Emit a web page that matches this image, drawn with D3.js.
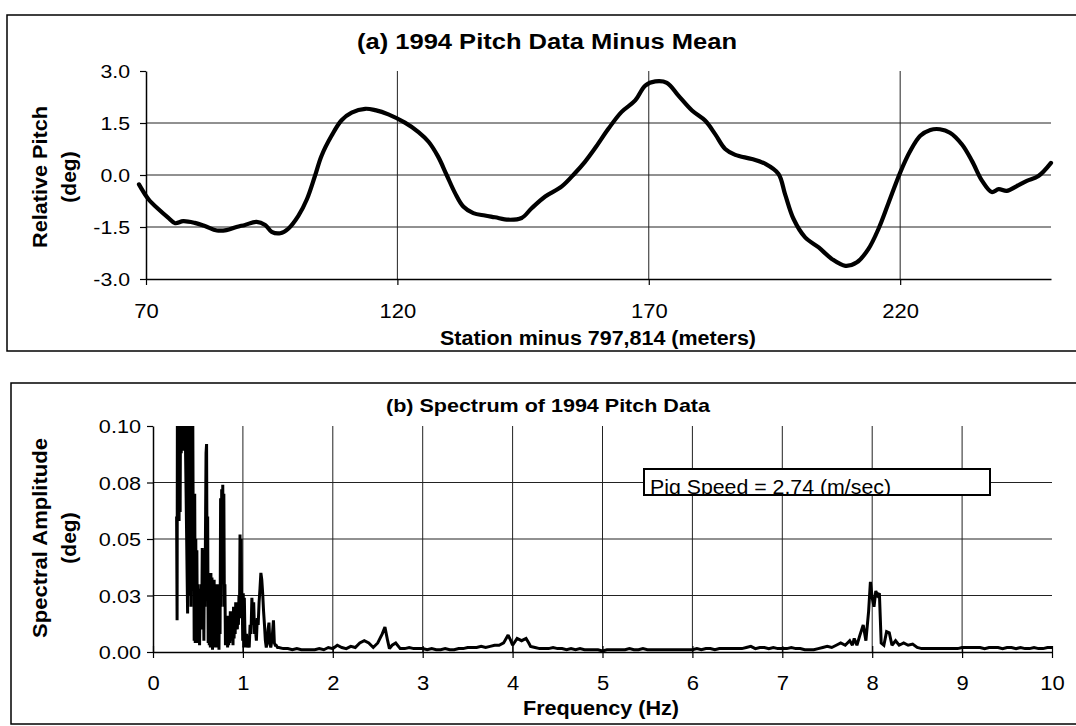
<!DOCTYPE html>
<html>
<head>
<meta charset="utf-8">
<script src="https://cdn.jsdelivr.net/npm/d3@7"></script>
<style>
  html, body { margin: 0; padding: 0; background: #fff; }
  svg { display: block; }
  text { font-family: "Liberation Sans", Arial, Helvetica, sans-serif; fill: #000; }
</style>
</head>
<body>
<svg id="chart" width="1076" height="726"></svg>
<script>
// ---------------- DATA ----------------
// (a) Pitch minus mean: station (m, minus 797,814) and relative pitch (deg)
const pitchStation = [68.6,70.5,72.5,74.4,75.8,77.4,79.7,81.7,84.1,86.0,88.0,89.7,92.0,93.7,95.0,96.7,98.3,100.3,102.0,103.6,104.9,106.9,108.9,110.9,113.6,115.6,118.2,121.5,124.2,126.2,128.1,129.8,131.5,133.1,135.1,137.4,139.4,142.1,144.7,146.7,149.4,152.7,155.3,157.3,159.3,162.0,164.6,167.3,169.3,171.3,173.6,175.9,178.6,181.2,183.2,185.2,187.2,190.5,193.2,195.8,197.1,198.8,201.1,203.8,206.4,209.1,211.4,213.7,215.7,217.7,220.0,222.0,224.0,226.0,227.9,229.9,232.3,234.3,236.3,238.2,239.6,241.2,243.2,245.2,247.5,250.0];
const pitchValue = [-0.27,-0.70,-0.99,-1.23,-1.39,-1.33,-1.38,-1.47,-1.60,-1.59,-1.50,-1.44,-1.35,-1.44,-1.64,-1.68,-1.55,-1.18,-0.70,-0.03,0.55,1.13,1.58,1.80,1.91,1.87,1.75,1.51,1.24,0.96,0.53,0.00,-0.53,-0.91,-1.10,-1.17,-1.22,-1.29,-1.24,-0.96,-0.62,-0.33,0.05,0.38,0.77,1.34,1.82,2.15,2.58,2.70,2.66,2.29,1.86,1.57,1.18,0.75,0.58,0.46,0.32,0.03,-0.55,-1.27,-1.80,-2.09,-2.42,-2.62,-2.52,-2.13,-1.55,-0.80,0.07,0.69,1.13,1.30,1.32,1.22,0.88,0.40,-0.17,-0.49,-0.41,-0.46,-0.32,-0.17,-0.03,0.35];
const pitchXTicks = [70, 120, 170, 220];
const pitchYTicks = [-3, -1.5, 0, 1.5, 3];
const pitchYTickLabels = ["-3.0", "-1.5", "0.0", "1.5", "3.0"];

// (b) Spectrum: [frequency (Hz), amplitude (deg)]
const spectrumLowBand = [[0.2625,0.06],[0.268,0.014],[0.272,0.13],[0.278,0.06],[0.284,0.13],[0.290,0.058],[0.296,0.13],[0.302,0.062],[0.308,0.13],[0.314,0.088],[0.320,0.13],[0.326,0.09],[0.332,0.13],[0.338,0.089],[0.344,0.12],[0.350,0.09],[0.356,0.11],[0.362,0.089],[0.385,0.017],[0.392,0.13],[0.398,0.025],[0.404,0.13],[0.410,0.03],[0.416,0.13],[0.422,0.02],[0.428,0.13],[0.434,0.05],[0.440,0.13],[0.446,0.067],[0.452,0.07],[0.458,0.005],[0.464,0.07],[0.470,0.004],[0.476,0.05],[0.482,0.006],[0.488,0.045],[0.494,0.004],[0.500,0.03],[0.506,0.005],[0.512,0.028],[0.518,0.003],[0.524,0.025],[0.530,0.01],[0.536,0.03],[0.542,0.012],[0.548,0.046],[0.554,0.01],[0.560,0.03],[0.566,0.005],[0.572,0.045],[0.578,0.02],[0.584,0.055],[0.590,0.088],[0.596,0.092],[0.602,0.03],[0.608,0.06],[0.614,0.004],[0.620,0.03],[0.626,0.003],[0.632,0.028],[0.638,0.002],[0.644,0.035],[0.650,0.006],[0.656,0.033],[0.662,0.001],[0.668,0.03],[0.674,0.006],[0.680,0.032],[0.686,0.002],[0.692,0.03],[0.698,0.004],[0.704,0.028],[0.710,0.002],[0.716,0.03],[0.722,0.004],[0.728,0.02],[0.734,0.001],[0.740,0.03],[0.746,0.008],[0.752,0.068],[0.758,0.02],[0.764,0.072],[0.770,0.03],[0.776,0.074],[0.782,0.04],[0.788,0.07],[0.794,0.02],[0.800,0.03],[0.806,0.003],[0.812,0.015],[0.818,0.003],[0.824,0.012],[0.83,0.002],[0.836,0.016],[0.842,0.003],[0.848,0.016],[0.854,0.004],[0.86,0.018],[0.866,0.006],[0.872,0.018],[0.878,0.005],[0.884,0.017],[0.89,0.003],[0.896,0.02],[0.902,0.006],[0.908,0.02],[0.914,0.008],[0.92,0.022],[0.926,0.012],[0.932,0.022],[0.938,0.01],[0.944,0.02],[0.95,0.012],[0.956,0.025],[0.962,0.015],[0.968,0.052],[0.974,0.02],[0.98,0.05],[0.986,0.02],[0.992,0.025],[0.998,0.005],[1.004,0.026],[1.01,0.002],[1.016,0.024],[1.022,0.01],[1.03,0.002],[1.04,0.008],[1.05,0.002],[1.06,0.006],[1.07,0.002],[1.08,0.012],[1.09,0.008],[1.10,0.024],[1.11,0.012],[1.12,0.022],[1.13,0.008],[1.14,0.01],[1.15,0.005],[1.16,0.015],[1.17,0.012],[1.18,0.022],[1.19,0.028],[1.20,0.035],[1.21,0.032],[1.22,0.026],[1.23,0.018],[1.24,0.012],[1.25,0.005],[1.26,0.002],[1.27,0.004],[1.28,0.01],[1.29,0.013],[1.30,0.004],[1.31,0.002],[1.325,0.006],[1.34,0.014],[1.35,0.004],[1.36,0.003],[1.37,0.003],[1.385,0.002]];
const spectrumMidBand = [[1.40,0.002],[1.45,0.0015],[1.50,0.0015],[1.55,0.001],[1.60,0.0015],[1.65,0.001],[1.70,0.001],[1.75,0.001],[1.80,0.001],[1.85,0.0015],[1.90,0.001],[1.95,0.002],[2.00,0.0015],[2.05,0.003],[2.10,0.002],[2.15,0.0015],[2.20,0.0025],[2.25,0.002],[2.30,0.004],[2.35,0.005],[2.40,0.004],[2.45,0.002],[2.50,0.004],[2.55,0.008],[2.58,0.011],[2.61,0.005],[2.63,0.0015],[2.66,0.003],[2.70,0.004],[2.75,0.0015],[2.80,0.0015],[2.85,0.002],[2.90,0.0015],[2.95,0.0015],[3.00,0.0015],[3.05,0.001],[3.10,0.0015],[3.15,0.001],[3.20,0.001],[3.25,0.0015],[3.30,0.001],[3.35,0.001],[3.40,0.0015],[3.45,0.0015],[3.50,0.002],[3.55,0.002],[3.60,0.002],[3.65,0.0025],[3.70,0.002],[3.75,0.0025],[3.80,0.003],[3.85,0.003],[3.90,0.004],[3.95,0.0075],[3.98,0.005],[4.00,0.003],[4.05,0.006],[4.10,0.005],[4.15,0.006],[4.18,0.004],[4.20,0.0025],[4.25,0.002],[4.30,0.0015],[4.35,0.0015],[4.40,0.0015],[4.45,0.002],[4.50,0.0015],[4.55,0.0015],[4.60,0.001],[4.65,0.0015],[4.70,0.001],[4.75,0.0015],[4.80,0.001],[4.85,0.001],[4.90,0.001],[4.95,0.001],[5.00,0.0005]];
const spectrumHighBand = [[5.05,0.001],[5.10,0.001],[5.15,0.001],[5.20,0.001],[5.25,0.001],[5.30,0.0015],[5.35,0.001],[5.40,0.001],[5.45,0.0015],[5.50,0.001],[5.55,0.001],[5.60,0.001],[5.65,0.001],[5.70,0.001],[5.75,0.001],[5.80,0.001],[5.85,0.001],[5.90,0.001],[5.95,0.001],[6.00,0.001],[6.05,0.0015],[6.10,0.001],[6.15,0.0015],[6.20,0.0015],[6.25,0.001],[6.30,0.0015],[6.35,0.0015],[6.40,0.0015],[6.45,0.0015],[6.50,0.0015],[6.55,0.0015],[6.60,0.002],[6.65,0.0025],[6.70,0.0015],[6.75,0.002],[6.80,0.002],[6.85,0.0015],[6.90,0.002],[6.95,0.0015],[7.00,0.0015],[7.05,0.0015],[7.10,0.002],[7.15,0.0015],[7.20,0.0015],[7.25,0.001],[7.30,0.001],[7.35,0.001],[7.40,0.0015],[7.45,0.002],[7.50,0.0025],[7.55,0.002],[7.60,0.003],[7.65,0.004],[7.70,0.003],[7.75,0.005],[7.78,0.003],[7.80,0.006],[7.83,0.003],[7.86,0.007],[7.90,0.012],[7.93,0.005],[7.96,0.018],[7.98,0.031],[8.00,0.024],[8.02,0.02],[8.04,0.027],[8.06,0.025],[8.08,0.026],[8.10,0.004],[8.13,0.003],[8.16,0.009],[8.19,0.0085],[8.22,0.003],[8.26,0.005],[8.30,0.003],[8.35,0.004],[8.40,0.003],[8.45,0.0035],[8.50,0.002],[8.55,0.0015],[8.60,0.0015],[8.65,0.0015],[8.70,0.0015],[8.75,0.0015],[8.80,0.0015],[8.85,0.0015],[8.90,0.0015],[8.95,0.0015],[9.00,0.002],[9.05,0.002],[9.10,0.002],[9.15,0.002],[9.20,0.002],[9.25,0.0015],[9.30,0.002],[9.35,0.002],[9.40,0.002],[9.45,0.0015],[9.50,0.002],[9.55,0.002],[9.60,0.0015],[9.65,0.002],[9.70,0.0015],[9.75,0.0015],[9.80,0.002],[9.85,0.0015],[9.90,0.0015],[9.95,0.002],[10.00,0.002]];
const specXTicks = [0,1,2,3,4,5,6,7,8,9,10];
const specYTicks = [0, 0.025, 0.05, 0.075, 0.1];
const specYTickLabels = ["0.00", "0.03", "0.05", "0.08", "0.10"];

const titleA = "(a) 1994 Pitch Data Minus Mean";
const titleB = "(b) Spectrum of 1994 Pitch Data";
const annotation = "Pig Speed = 2.74 (m/sec)";

// ---------------- DRAW ----------------
const svg = d3.select("#chart");
svg.append("rect").attr("width", 1076).attr("height", 726).attr("fill", "#fff");

function fitText(sel, len) {
  sel.attr("textLength", len).attr("lengthAdjust", "spacingAndGlyphs");
}
function widen(sel, k) {
  sel.each(function () {
    const w = this.getComputedTextLength();
    d3.select(this).attr("textLength", w * k).attr("lengthAdjust", "spacingAndGlyphs");
  });
}

// ===== Panel (a) =====
svg.append("rect").attr("x", 7).attr("y", 15).attr("width", 1090).attr("height", 336)
  .attr("fill", "none").attr("stroke", "#000").attr("stroke-width", 1.5);

const xA = d3.scaleLinear().domain([70, 250]).range([146, 1051]);
const yA = d3.scaleLinear().domain([-3, 3]).range([279, 71]);

const gA = svg.append("g");
gA.selectAll("line.hg").data(pitchYTicks.filter(d => d > -3 && d < 3)).join("line")
  .attr("x1", xA(70)).attr("x2", xA(250)).attr("y1", d => yA(d)).attr("y2", d => yA(d))
  .attr("stroke", "#222").attr("stroke-width", 1);
gA.selectAll("line.vg").data(pitchXTicks.filter(d => d > 70)).join("line")
  .attr("x1", d => xA(d)).attr("x2", d => xA(d)).attr("y1", yA(3)).attr("y2", yA(-3))
  .attr("stroke", "#222").attr("stroke-width", 1);

const axA_x = gA.append("g").attr("transform", `translate(0,${yA(-3)})`)
  .call(d3.axisBottom(xA).tickValues(pitchXTicks).tickSize(6).tickSizeOuter(0).tickFormat(d3.format("d")));
axA_x.select(".domain").attr("stroke", "#000").attr("stroke-width", 1.5);
axA_x.selectAll(".tick line").attr("stroke", "#000").attr("stroke-width", 1.2);
axA_x.selectAll(".tick text").attr("y", 39).attr("dy", 0).style("font-size", "20px").call(widen, 1.1);

const axA_y = gA.append("g").attr("transform", `translate(${xA(70)},0)`)
  .call(d3.axisLeft(yA).tickValues(pitchYTicks).tickSize(6).tickSizeOuter(0)
    .tickFormat((d, i) => pitchYTickLabels[i]));
axA_y.select(".domain").attr("stroke", "#000").attr("stroke-width", 1.5);
axA_y.selectAll(".tick line").attr("stroke", "#000").attr("stroke-width", 1.2);
axA_y.selectAll(".tick text").attr("x", -16).attr("dy", "0.36em").style("font-size", "19px").call(widen, 1.12);

const pitchData = pitchStation.map((s, i) => [s, pitchValue[i]]);
gA.append("path").datum(pitchData)
  .attr("d", d3.line().x(d => xA(d[0])).y(d => yA(d[1])).curve(d3.curveCatmullRom.alpha(0.5)))
  .attr("fill", "none").attr("stroke", "#000").attr("stroke-width", 4.2)
  .attr("stroke-linejoin", "round").attr("stroke-linecap", "round");

svg.append("text").attr("x", 547).attr("y", 49).attr("text-anchor", "middle")
  .style("font-size", "22px").style("font-weight", "bold").text(titleA).call(fitText, 380);
svg.append("text").attr("x", 598).attr("y", 345).attr("text-anchor", "middle")
  .style("font-size", "20px").style("font-weight", "bold").text("Station minus 797,814 (meters)").call(fitText, 316);
svg.append("text").attr("transform", "translate(47,177) rotate(-90)").attr("text-anchor", "middle")
  .style("font-size", "21px").style("font-weight", "bold").text("Relative Pitch").call(fitText, 142);
svg.append("text").attr("transform", "translate(76,177) rotate(-90)").attr("text-anchor", "middle")
  .style("font-size", "21px").style("font-weight", "bold").text("(deg)");

// ===== Panel (b) =====
svg.append("rect").attr("x", 11).attr("y", 383).attr("width", 1090).attr("height", 341)
  .attr("fill", "none").attr("stroke", "#000").attr("stroke-width", 1.5);

const xB = d3.scaleLinear().domain([0, 10]).range([153, 1052]);
const yB = d3.scaleLinear().domain([0, 0.1]).range([652, 426]);
const gB = svg.append("g");

gB.selectAll("line.hg").data(specYTicks.filter(d => d > 0 && d < 0.1)).join("line")
  .attr("x1", xB(0)).attr("x2", xB(10)).attr("y1", d => yB(d)).attr("y2", d => yB(d))
  .attr("stroke", "#222").attr("stroke-width", 1);
gB.selectAll("line.vg").data(specXTicks.filter(d => d > 0 && d < 10)).join("line")
  .attr("x1", d => xB(d)).attr("x2", d => xB(d)).attr("y1", yB(0.1)).attr("y2", yB(0))
  .attr("stroke", "#222").attr("stroke-width", 1);

const axB_x = gB.append("g").attr("transform", `translate(0,${yB(0)})`)
  .call(d3.axisBottom(xB).tickValues(specXTicks).tickSize(6).tickSizeOuter(0).tickFormat(d3.format("d")));
axB_x.select(".domain").attr("stroke", "#000").attr("stroke-width", 1.5);
axB_x.selectAll(".tick line").attr("stroke", "#000").attr("stroke-width", 1.2).attr("y1", -6);
axB_x.selectAll(".tick text").attr("y", 38).attr("dy", 0).style("font-size", "20px").call(widen, 1.1);

const axB_y = gB.append("g").attr("transform", `translate(${xB(0)},0)`)
  .call(d3.axisLeft(yB).tickValues(specYTicks).tickSize(6).tickSizeOuter(0)
    .tickFormat((d, i) => specYTickLabels[i]));
axB_y.select(".domain").attr("stroke", "#000").attr("stroke-width", 1.5);
axB_y.selectAll(".tick line").attr("stroke", "#000").attr("stroke-width", 1.2);
axB_y.selectAll(".tick text").attr("x", -12).attr("dy", "0.36em").style("font-size", "19px").call(widen, 1.14);

svg.append("clipPath").attr("id", "clipB").append("rect")
  .attr("x", xB(0)).attr("y", yB(0.1)).attr("width", xB(10) - xB(0) + 2).attr("height", yB(0) - yB(0.1) + 4);

const spectrum = spectrumLowBand.concat(spectrumMidBand, spectrumHighBand);
gB.append("path").datum(spectrum).attr("clip-path", "url(#clipB)")
  .attr("d", d3.line().x(d => xB(d[0])).y(d => yB(d[1])))
  .attr("fill", "none").attr("stroke", "#000").attr("stroke-width", 3)
  .attr("stroke-linejoin", "miter").attr("stroke-miterlimit", 2);

// annotation box
svg.append("clipPath").attr("id", "clipAnn").append("rect")
  .attr("x", 644).attr("y", 469).attr("width", 346).attr("height", 26);
svg.append("rect").attr("x", 644).attr("y", 469).attr("width", 346).attr("height", 26)
  .attr("fill", "#fff");
svg.append("text").attr("x", 650).attr("y", 494).attr("clip-path", "url(#clipAnn)")
  .style("font-size", "20px").text(annotation).call(fitText, 241);
svg.append("rect").attr("x", 644).attr("y", 469).attr("width", 346).attr("height", 26)
  .attr("fill", "none").attr("stroke", "#000").attr("stroke-width", 2);

svg.append("text").attr("x", 548).attr("y", 412).attr("text-anchor", "middle")
  .style("font-size", "19px").style("font-weight", "bold").text(titleB).call(fitText, 324);
svg.append("text").attr("x", 601).attr("y", 715).attr("text-anchor", "middle")
  .style("font-size", "20px").style("font-weight", "bold").text("Frequency (Hz)").call(fitText, 156);
svg.append("text").attr("transform", "translate(47,538) rotate(-90)").attr("text-anchor", "middle")
  .style("font-size", "21px").style("font-weight", "bold").text("Spectral Amplitude").call(fitText, 200);
svg.append("text").attr("transform", "translate(76,538) rotate(-90)").attr("text-anchor", "middle")
  .style("font-size", "21px").style("font-weight", "bold").text("(deg)");
</script>
</body>
</html>
